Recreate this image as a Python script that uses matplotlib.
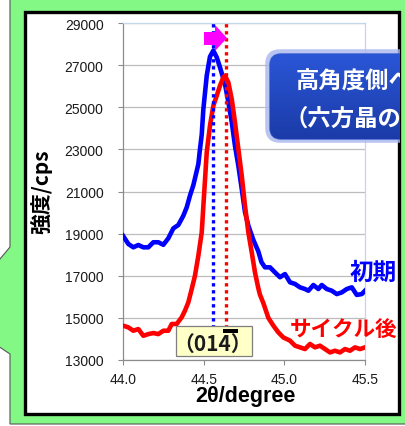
import numpy as np
import matplotlib
matplotlib.use("Agg")
import matplotlib.pyplot as plt
from matplotlib.patches import Polygon, Rectangle, FancyBboxPatch
from matplotlib.colors import LinearSegmentedColormap

# ---------------- data ----------------
x_initial = [44.000, 44.033, 44.064, 44.095, 44.126, 44.157, 44.188, 44.219, 44.250, 44.281,
             44.312, 44.343, 44.374, 44.395, 44.415, 44.436, 44.467, 44.477, 44.488, 44.498,
             44.519, 44.539, 44.560, 44.581, 44.601, 44.632, 44.653, 44.674, 44.694, 44.715,
             44.736, 44.756, 44.777, 44.808, 44.839, 44.858, 44.880, 44.911, 44.942, 44.973,
             45.004, 45.035, 45.066, 45.097, 45.128, 45.149, 45.180, 45.211, 45.232, 45.263,
             45.294, 45.325, 45.356, 45.387, 45.418, 45.449, 45.480, 45.500]
y_initial = [18900, 18510, 18350, 18460, 18350, 18350, 18590, 18590, 18470, 18780,
             19250, 19410, 19850, 20250, 20800, 21300, 22300, 23000, 23700, 24900,
             26500, 27400, 27690, 27370, 26900, 26100, 25250, 24300, 23170, 22220,
             21120, 20030, 19380, 18700, 18150, 17650, 17400, 17400, 17160, 16930,
             17080, 16690, 16610, 16450, 16370, 16290, 16560, 16370, 16560, 16370,
             16290, 16130, 16210, 16370, 16450, 16090, 16130, 16290]

x_cycled = [44.000, 44.033, 44.064, 44.095, 44.126, 44.157, 44.188, 44.219, 44.250, 44.281,
            44.302, 44.333, 44.364, 44.384, 44.405, 44.426, 44.446, 44.467, 44.488, 44.498,
            44.519, 44.539, 44.560, 44.581, 44.601, 44.622, 44.632, 44.653, 44.674, 44.694,
            44.715, 44.736, 44.756, 44.777, 44.798, 44.818, 44.839, 44.849, 44.870, 44.901,
            44.932, 44.963, 44.994, 45.035, 45.066, 45.097, 45.128, 45.159, 45.190, 45.221,
            45.252, 45.283, 45.314, 45.345, 45.376, 45.407, 45.438, 45.469, 45.500]
y_cycled = [14630, 14550, 14390, 14470, 14150, 14230, 14280, 14230, 14390, 14390,
            14710, 14710, 15030, 15340, 15740, 16370, 17000, 17950, 19060, 20300,
            22860, 24120, 25070, 25550, 26020, 26420, 26500, 26180, 25390, 24290,
            23020, 21750, 20330, 19060, 18110, 17160, 16400, 16100, 15700, 15000,
            14630, 14310, 14070, 13920, 13680, 13600, 13520, 13760, 13600, 13680,
            13520, 13360, 13440, 13360, 13520, 13440, 13600, 13520, 13600]

peak_initial = 44.56
peak_cycled = 44.637

x_ticks = [44.0, 44.5, 45.0, 45.5]
x_ticklabels = ["44.0", "44.5", "45.0", "45.5"]
y_ticks = [13000, 15000, 17000, 19000, 21000, 23000, 25000, 27000, 29000]

label_initial = "初期"
label_cycled = "サイクル後"
callout_lines = ["高角度側へ", "（六方晶の"]
peak_label = "（014）"
x_label = "2θ/degree"
y_label = "強度/cps"

# ---------------- figure ----------------
W, H = 406, 427
fig = plt.figure(figsize=(W / 100, H / 100), dpi=100)

jp = ["Noto Sans CJK JP", "DejaVu Sans"]

# background overlay (pixel coords, origin top-left)
bg = fig.add_axes([0, 0, 1, 1], zorder=0)
bg.set_xlim(0, W); bg.set_ylim(H, 0); bg.axis("off")
green = "#84F884"
bg.add_patch(Polygon([(10, -5), (411, -5), (411, 425), (10, 425), (10, 355), (-5, 345),
                      (-5, 266), (10, 248)], closed=True, facecolor=green,
                     edgecolor="#555555", lw=0.8))
bg.add_patch(Rectangle((25.5, 12.5), 374, 402, facecolor="white", edgecolor="black", lw=2.4))

# main axes
L, R, T, B = 123, 365, 24, 361
ax = fig.add_axes([L / W, (H - B) / H, (R - L) / W, (B - T) / H], zorder=1)
ax.set_facecolor("none")
ax.set_xlim(44.0, 45.5)
ax.set_ylim(13000, 29000)
ax.set_xticks(x_ticks)
ax.set_xticklabels(x_ticklabels)
ax.set_yticks(y_ticks)
ax.grid(axis="y", color="#BDBDBD", lw=0.9)
ax.grid(axis="x", visible=False)
for s in ["top", "right"]:
    ax.spines[s].set_color("#C5D5EA"); ax.spines[s].set_linewidth(0.9)
for s in ["left", "bottom"]:
    ax.spines[s].set_color("#8C8C8C"); ax.spines[s].set_linewidth(0.9)
ax.tick_params(axis="y", length=3.5, width=0.8, color="#8C8C8C", pad=10.5,
               labelsize=10)
ax.tick_params(axis="x", length=3.5, width=0.8, color="#8C8C8C", pad=5,
               labelsize=10)
for lab in ax.get_xticklabels() + ax.get_yticklabels():
    lab.set_fontfamily("Liberation Sans")
    lab.set_color("#1a1a1a")

ax.plot(x_initial, y_initial, color="#0000FF", lw=3.3, solid_joinstyle="round", zorder=3)
ax.plot(x_cycled, y_cycled, color="#FF0000", lw=3.3, solid_joinstyle="round", zorder=4)
ax.plot([peak_initial, peak_initial], [14500, 29000], color="#0000FF", lw=2.4,
        linestyle=(0, (1, 1.1)), zorder=5, clip_on=False)
ax.plot([peak_cycled, peak_cycled], [14500, 29000], color="#FF0000", lw=2.4,
        linestyle=(0, (1, 1.1)), zorder=5, clip_on=False)

fig.text(245 / W, 1 - 397 / H, x_label, ha="center", va="center",
         fontsize=15.5, fontweight="bold", family="Liberation Sans", color="black")
fig.text(41 / W, 1 - 192 / H, y_label, ha="center", va="center", rotation=90,
         fontsize=15, fontweight="bold", family=jp, color="black")

# overlay for annotations
ov = fig.add_axes([0, 0, 1, 1], zorder=3)
ov.set_xlim(0, W); ov.set_ylim(H, 0); ov.axis("off")
ov.set_facecolor("none")

clip_rect = Rectangle((0, 0), 400, H, transform=ov.transData, facecolor="none",
                      edgecolor="none")

# magenta arrow
ov.add_patch(Polygon([(204, 33), (215, 33), (215, 26), (227, 39), (215, 52), (215, 46),
                      (204, 46)], closed=True, facecolor="#FF00FF", edgecolor="none"))

# blue callout box with gradient
glow = FancyBboxPatch((268, 53), 160, 88, boxstyle="round,pad=0,rounding_size=12",
                      facecolor="none", edgecolor="#A9B6EE", lw=4, alpha=0.8)
ov.add_patch(glow)
glow.set_clip_path(clip_rect)
box = FancyBboxPatch((270, 55), 160, 85, boxstyle="round,pad=0,rounding_size=11",
                     facecolor="#2148C0", edgecolor="#3A5BD0", lw=1)
ov.add_patch(box)
box.set_clip_path(clip_rect)
grad = np.linspace(0, 1, 100).reshape(-1, 1)
cm = LinearSegmentedColormap.from_list("bb", ["#2A56D6", "#1B3BA8"])
im = ov.imshow(grad, extent=(270, 400, 140, 55), cmap=cm, aspect="auto", zorder=2)
im.set_clip_path(box)
for txt, (tx, ty) in zip(callout_lines, [(296, 82), (285, 119)]):
    t = ov.text(tx, ty, txt, ha="left", va="center", fontsize=16.8,
                fontweight="bold", family=jp, color="white", zorder=4)
    t.set_clip_path(clip_rect)
    t.set_clip_on(True)

# series labels
ov.text(350, 273, label_initial, ha="left", va="center", fontsize=17,
        fontweight="bold", family=jp, color="#0000FF", zorder=4)
ov.text(290, 329, label_cycled, ha="left", va="center", fontsize=15.5,
        fontweight="bold", family=jp, color="#FF0000", zorder=4)

# peak index box
ov.add_patch(Rectangle((176, 327), 76, 30, facecolor="#FFFFC8", edgecolor="#7F7F7F",
                       lw=0.9, zorder=4))
ov.text(213, 344, peak_label, ha="center", va="center", fontsize=15,
        fontweight="bold", family=jp, color="#1a1a1a", zorder=5)
ov.add_patch(Rectangle((223, 330), 15, 4, facecolor="black", edgecolor="none", zorder=6))

fig.savefig("out.png", dpi=100)
